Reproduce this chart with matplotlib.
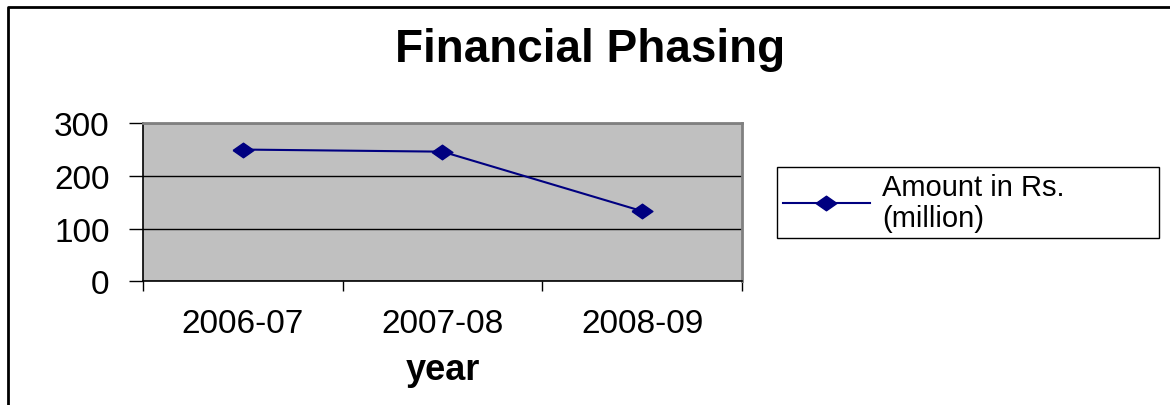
import matplotlib.pyplot as plt
from matplotlib.lines import Line2D
import numpy as np

plt.rcParams['font.family'] = ['Liberation Sans', 'DejaVu Sans']

# data
years = ["2006-07", "2007-08", "2008-09"]
amount = [250, 246, 133]
y_ticks = [0, 100, 200, 300]

fig = plt.figure(figsize=(11.7, 4.06), dpi=100)
ax = fig.add_axes([0.1222, 0.305, 0.512, 0.389])

x = np.arange(len(years))

# stretched diamond marker, like the old spreadsheet chart
diamond = [(-1, 0), (0, 0.7), (1, 0), (0, -0.7), (-1, 0)]
ax.plot(x, amount, color="#000080", linewidth=1.5, marker=diamond,
        markersize=15, markerfacecolor="#000080", markeredgecolor="#000080",
        label="Amount in Rs.\n(million)", zorder=3)

ax.set_facecolor("#C0C0C0")
ax.set_xlim(-0.5, len(years) - 0.5)
ax.set_ylim(0, 300)
ax.set_yticks(y_ticks)
ax.yaxis.grid(True, color="black", linewidth=1)
ax.set_axisbelow(True)

# category ticks sit between the categories, labels in the middle
ax.set_xticks(np.arange(len(years) + 1) - 0.5)
ax.set_xticklabels([])
ax.set_xticks(x, minor=True)
ax.set_xticklabels(years, minor=True, fontsize=24)
ax.tick_params(axis="x", which="major", direction="out", length=7, width=1, color="black")
ax.tick_params(axis="x", which="minor", length=0, pad=19)
ax.tick_params(axis="y", direction="out", length=10, width=1, color="black",
               labelsize=24, pad=14)

for side in ["top", "right"]:
    ax.spines[side].set_color("#808080")
    ax.spines[side].set_linewidth(2)
for side in ["left", "bottom"]:
    ax.spines[side].set_color("black")
    ax.spines[side].set_linewidth(1.2)

ax.set_xlabel("year", fontsize=26, fontweight="bold", labelpad=10)

fig.suptitle("Financial Phasing", x=0.504, y=0.93, fontsize=33, fontweight="bold")

leg = ax.legend(loc="center left", bbox_to_anchor=(0.664, 0.406, 0.327, 0.185),
                bbox_transform=fig.transFigure, mode="expand",
                fontsize=21, frameon=True, fancybox=False, framealpha=1,
                edgecolor="black", handlelength=3.0, handletextpad=0.4,
                borderpad=0.2, borderaxespad=0)
leg.get_frame().set_linewidth(1)
for t in leg.get_texts():
    t.set_linespacing(1.15)

# outer chart border, only left and top are visible in the crop
bx = 8 / 1170
by = 1 - 8 / 406
fig.add_artist(Line2D([bx, bx, 1], [0, by, by], transform=fig.transFigure,
                      color="black", linewidth=2))

fig.savefig("out.png", dpi=100)
